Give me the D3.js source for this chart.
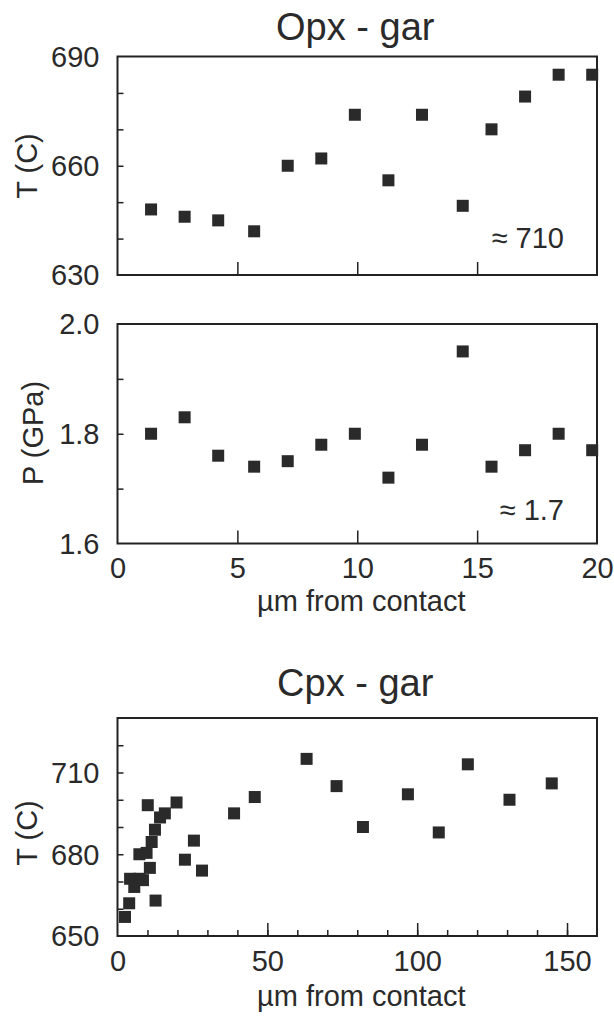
<!DOCTYPE html>
<html>
<head>
<meta charset="utf-8">
<script src="https://cdn.jsdelivr.net/npm/d3@7"></script>
<style>
  body { margin: 0; background: #fff; }
  svg { display: block; font-family: "Liberation Sans", Arial, Helvetica, sans-serif; }
  .tick line { stroke: #222; stroke-width: 1.5; }
  .tick text { fill: #2a2a2a; }
</style>
</head>
<body>
<svg id="chart" width="614" height="1017"></svg>
<script>
// Opx - gar profile: distance from contact (µm), temperature (C), pressure (GPa)
const opxDist = [1.4, 2.8, 4.2, 5.7, 7.1, 8.5, 9.9, 11.3, 12.7, 14.4, 15.6, 17.0, 18.4, 19.8];
const opxT = [648, 646, 645, 642, 660, 662, 674, 656, 674, 649, 670, 679, 685, 685];
const opxP = [1.80, 1.83, 1.76, 1.74, 1.75, 1.78, 1.80, 1.72, 1.78, 1.95, 1.74, 1.77, 1.80, 1.77];

// Cpx - gar profile
const cpxDist = [2.5, 3.9, 4.2, 5.6, 7.3, 8.5, 10.8, 7.3, 9.7, 11.4, 12.5, 14.2, 15.8, 10.1, 19.7,
                 12.7, 22.5, 25.5, 28.2, 38.9, 45.8, 63.1, 73.1, 81.9, 96.9, 107.2, 116.9, 130.8, 144.9];
const cpxT = [657, 662, 671, 668, 671, 670.5, 675, 680, 680.5, 684.5, 689, 693.5, 695, 698, 699,
              663, 678, 685, 674, 695, 701, 715, 705, 690, 702, 688, 713, 700, 706];

// tick labels
const opxTLabels = [630, 660, 690];
const opxPLabels = [1.6, 1.8, 2.0];
const opxXLabels = [0, 5, 10, 15, 20];
const cpxTLabels = [650, 680, 710];
const cpxXLabels = [0, 50, 100, 150];

const svg = d3.select("#chart");
const left = 117.5, right = 597;
const markSize = 12;
const ink = "#2a2a2a";

function panel(opts) {
    const { top, bottom, xDomain, yDomain, xs, ys } = opts;
    const x = d3.scaleLinear().domain(xDomain).range([left, right]);
    const y = d3.scaleLinear().domain(yDomain).range([bottom, top]);
    const g = svg.append("g");

    // minor y ticks, inward
    g.append("g")
        .attr("transform", `translate(${left},0)`)
        .call(d3.axisLeft(y).tickValues(opts.yMinor).tickSizeInner(-6).tickSizeOuter(0).tickFormat(""))
        .call(a => a.select(".domain").remove());
    // y labels
    g.append("g")
        .attr("transform", `translate(${left},0)`)
        .call(d3.axisLeft(y).tickValues(opts.yLabels).tickSize(0).tickPadding(18).tickFormat(opts.yFormat))
        .call(a => a.select(".domain").remove())
        .call(a => a.selectAll("text").style("font-size", "29px").attr("dy", "0.34em"));

    // x ticks, inward
    if (opts.xMinor) {
        g.append("g")
            .attr("transform", `translate(0,${bottom})`)
            .call(d3.axisBottom(x).tickValues(opts.xMinor).tickSizeInner(-6).tickSizeOuter(0).tickFormat(""))
            .call(a => a.select(".domain").remove());
    }
    g.append("g")
        .attr("transform", `translate(0,${bottom})`)
        .call(d3.axisBottom(x).tickValues(opts.xMajor).tickSizeInner(-13).tickSizeOuter(0).tickFormat(""))
        .call(a => a.select(".domain").remove());
    if (opts.xLabels) {
        g.append("g")
            .attr("transform", `translate(0,${bottom})`)
            .call(d3.axisBottom(x).tickValues(opts.xLabels).tickSize(0).tickPadding(14).tickFormat(d3.format("d")))
            .call(a => a.select(".domain").remove())
            .call(a => a.selectAll("text").style("font-size", "29px"));
    }

    // frame
    g.append("rect")
        .attr("x", left).attr("y", top)
        .attr("width", right - left).attr("height", bottom - top)
        .attr("fill", "none").attr("stroke", "#222").attr("stroke-width", 2);

    // points
    g.append("g")
        .selectAll("rect")
        .data(xs.map((d, i) => [d, ys[i]]))
        .join("rect")
        .attr("x", d => x(d[0]) - markSize / 2)
        .attr("y", d => y(d[1]) - markSize / 2)
        .attr("width", markSize)
        .attr("height", markSize)
        .attr("fill", ink);

    // y axis title
    g.append("text")
        .attr("transform", `translate(${opts.yTitleX},${opts.yTitleY}) rotate(-90)`)
        .attr("text-anchor", "middle")
        .attr("fill", ink)
        .style("font-size", "29px")
        .text(opts.yTitle);

    if (opts.note) {
        g.append("text")
            .attr("x", 564).attr("y", opts.noteY)
            .attr("text-anchor", "end")
            .attr("fill", ink)
            .style("font-size", "29px")
            .text(opts.note);
    }
    if (opts.xTitle) {
        g.append("text")
            .attr("x", (left + right) / 2 + 4).attr("y", opts.xTitleY)
            .attr("text-anchor", "middle")
            .attr("fill", ink)
            .style("font-size", "29px")
            .text(opts.xTitle);
    }
    if (opts.title) {
        g.append("text")
            .attr("x", (left + right) / 2 - 2).attr("y", opts.titleY)
            .attr("text-anchor", "middle")
            .attr("fill", ink)
            .style("font-size", "38px")
            .text(opts.title);
    }
}

panel({
    top: 56.5, bottom: 275, xDomain: [0, 20], yDomain: [630, 690],
    xs: opxDist, ys: opxT,
    yMinor: d3.range(640, 690, 10), yLabels: opxTLabels, yFormat: d3.format("d"),
    xMajor: [5, 10, 15],
    yTitle: "T (C)", yTitleX: 37, yTitleY: 166,
    note: "≈ 710", noteY: 248,
    title: "Opx - gar", titleY: 39.5
});

panel({
    top: 324, bottom: 543.5, xDomain: [0, 20], yDomain: [1.6, 2.0],
    xs: opxDist, ys: opxP,
    yMinor: [1.7, 1.8, 1.9], yLabels: opxPLabels, yFormat: d3.format(".1f"),
    xMajor: [5, 10, 15], xLabels: opxXLabels,
    yTitle: "P (GPa)", yTitleX: 43, yTitleY: 433,
    note: "≈ 1.7", noteY: 520,
    xTitle: "µm from contact", xTitleY: 611
});

panel({
    top: 718, bottom: 936, xDomain: [0, 160], yDomain: [650, 730],
    xs: cpxDist, ys: cpxT,
    yMinor: d3.range(660, 730, 10), yLabels: cpxTLabels, yFormat: d3.format("d"),
    xMinor: d3.range(10, 160, 10), xMajor: [50, 100, 150], xLabels: cpxXLabels,
    yTitle: "T (C)", yTitleX: 37, yTitleY: 833,
    xTitle: "µm from contact", xTitleY: 1006,
    title: "Cpx - gar", titleY: 696
});
</script>
</body>
</html>
